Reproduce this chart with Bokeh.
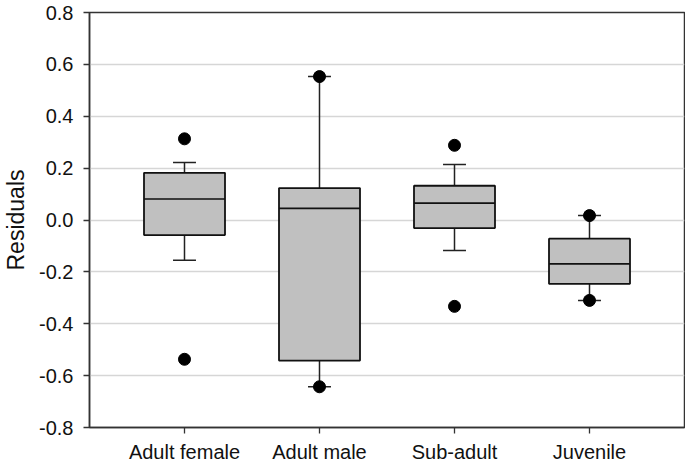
from bokeh.plotting import figure
from bokeh.models import FixedTicker, Range1d, ColumnDataSource
from bokeh.embed import file_html
from bokeh.resources import INLINE

# ---- data ----
categories = ["Adult female", "Adult male", "Sub-adult", "Juvenile"]
q1 = [-0.058, -0.542, -0.031, -0.246]
median = [0.081, 0.045, 0.065, -0.169]
q3 = [0.182, 0.123, 0.132, -0.072]
whisker_low = [-0.155, -0.643, -0.118, -0.310]
whisker_high = [0.222, 0.553, 0.214, 0.017]
outlier_cat = [0, 0, 1, 1, 2, 2, 3, 3]
outlier_val = [0.313, -0.537, 0.553, -0.643, 0.288, -0.333, 0.017, -0.310]
y_ticks = [-0.8, -0.6, -0.4, -0.2, 0.0, 0.2, 0.4, 0.6, 0.8]
y_tick_labels = ["-0.8", "-0.6", "-0.4", "-0.2", "0.0", "0.2", "0.4", "0.6", "0.8"]

FONT = "Liberation Sans"
DARK = "#333333"

xs = list(range(len(categories)))
box_w = 0.6
cap_w = 0.085

p = figure(width=685, height=467, output_backend="svg", toolbar_location=None,
           x_range=Range1d(-0.7037, 3.7037), y_range=Range1d(-0.8, 0.8),
           min_border_left=89, min_border_right=1, min_border_top=12, min_border_bottom=40)
p.background_fill_color = "white"
p.border_fill_color = "white"
p.outline_line_color = DARK
p.outline_line_width = 1.5

# grid
p.xgrid.visible = False
p.ygrid.ticker = FixedTicker(ticks=y_ticks)
p.ygrid.grid_line_color = "#d6d6d6"
p.ygrid.grid_line_width = 1.3

# axes
p.yaxis.ticker = FixedTicker(ticks=y_ticks)
p.yaxis.major_label_overrides = {t: l for t, l in zip(y_ticks, y_tick_labels)}
p.xaxis.ticker = FixedTicker(ticks=xs)
p.xaxis.major_label_overrides = {i: c for i, c in zip(xs, categories)}
p.yaxis.axis_label = "Residuals"
for ax in (p.xaxis, p.yaxis):
    ax.axis_line_color = DARK
    ax.axis_line_width = 1.5
    ax.major_tick_line_color = DARK
    ax.major_tick_line_width = 1.3
    ax.major_tick_in = 0
    ax.major_tick_out = 6
    ax.minor_tick_line_color = None
    ax.major_label_text_font = FONT
    ax.major_label_text_font_size = "20px"
    ax.major_label_text_color = "#111111"
    ax.axis_label_text_font = FONT
    ax.axis_label_text_font_size = "23px"
    ax.axis_label_text_font_style = "normal"
    ax.axis_label_text_color = "#111111"
p.yaxis.major_label_standoff = 10
p.yaxis.axis_label_standoff = 7
p.xaxis.major_label_standoff = 7

src = ColumnDataSource(dict(
    x=xs, q1=q1, q3=q3, med=median, lo=whisker_low, hi=whisker_high,
    x0=[x - box_w / 2 for x in xs], x1=[x + box_w / 2 for x in xs],
    c0=[x - cap_w for x in xs], c1=[x + cap_w for x in xs],
))

# whiskers
p.segment(x0="x", y0="q3", x1="x", y1="hi", source=src, line_color="#222222", line_width=1.5)
p.segment(x0="x", y0="q1", x1="x", y1="lo", source=src, line_color="#222222", line_width=1.5)
# caps
p.segment(x0="c0", y0="hi", x1="c1", y1="hi", source=src, line_color="#222222", line_width=1.5)
p.segment(x0="c0", y0="lo", x1="c1", y1="lo", source=src, line_color="#222222", line_width=1.5)
# boxes
p.vbar(x="x", width=box_w, top="q3", bottom="q1", source=src,
       fill_color="#c0c0c0", line_color="#111111", line_width=1.8)
# medians
p.segment(x0="x0", y0="med", x1="x1", y1="med", source=src, line_color="#111111", line_width=1.6)
# outliers
p.scatter(x=outlier_cat, y=outlier_val, size=12, marker="circle",
          fill_color="black", line_color="black")

open("out.html", "w").write(file_html(p, INLINE))
